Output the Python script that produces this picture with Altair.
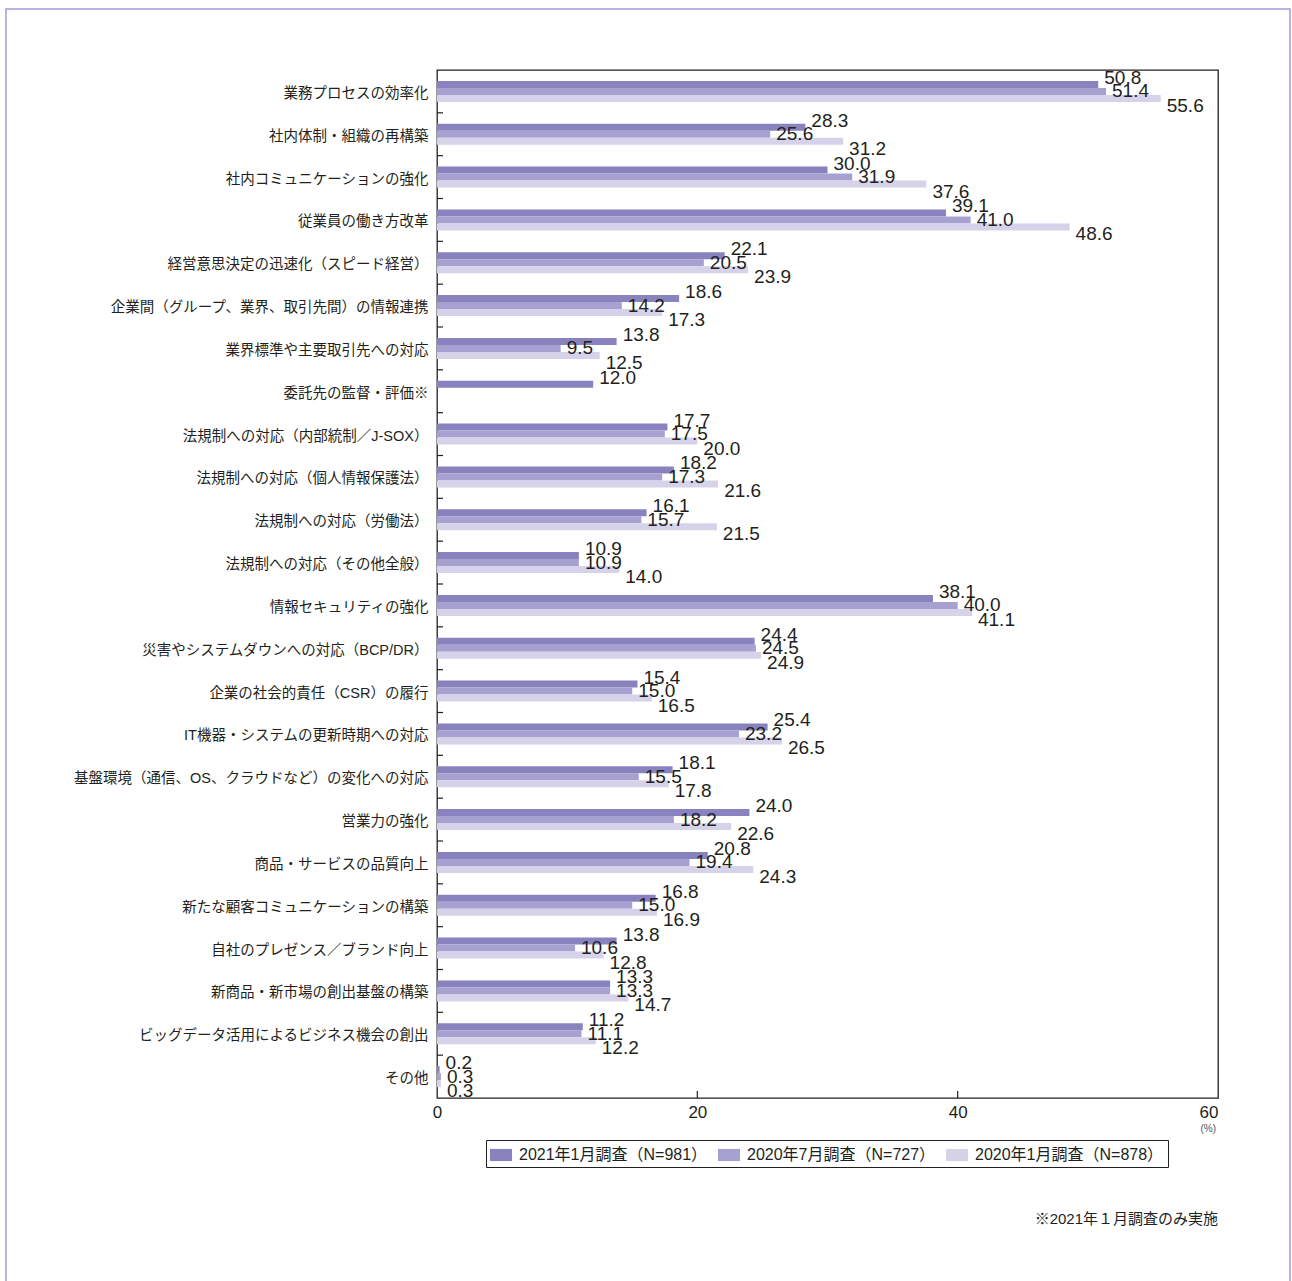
import altair as alt
import pandas as pd

categories = [
    "業務プロセスの効率化",
    "社内体制・組織の再構築",
    "社内コミュニケーションの強化",
    "従業員の働き方改革",
    "経営意思決定の迅速化（スピード経営）",
    "企業間（グループ、業界、取引先間）の情報連携",
    "業界標準や主要取引先への対応",
    "委託先の監督・評価※",
    "法規制への対応（内部統制／J-SOX）",
    "法規制への対応（個人情報保護法）",
    "法規制への対応（労働法）",
    "法規制への対応（その他全般）",
    "情報セキュリティの強化",
    "災害やシステムダウンへの対応（BCP/DR）",
    "企業の社会的責任（CSR）の履行",
    "IT機器・システムの更新時期への対応",
    "基盤環境（通信、OS、クラウドなど）の変化への対応",
    "営業力の強化",
    "商品・サービスの品質向上",
    "新たな顧客コミュニケーションの構築",
    "自社のプレゼンス／ブランド向上",
    "新商品・新市場の創出基盤の構築",
    "ビッグデータ活用によるビジネス機会の創出",
    "その他",
]

series_names = ["2021年1月調査（N=981）", "2020年7月調査（N=727）", "2020年1月調査（N=878）"]

v_2021_01 = [50.8, 28.3, 30.0, 39.1, 22.1, 18.6, 13.8, 12.0, 17.7, 18.2, 16.1, 10.9,
             38.1, 24.4, 15.4, 25.4, 18.1, 24.0, 20.8, 16.8, 13.8, 13.3, 11.2, 0.2]
v_2020_07 = [51.4, 25.6, 31.9, 41.0, 20.5, 14.2, 9.5, None, 17.5, 17.3, 15.7, 10.9,
             40.0, 24.5, 15.0, 23.2, 15.5, 18.2, 19.4, 15.0, 10.6, 13.3, 11.1, 0.3]
v_2020_01 = [55.6, 31.2, 37.6, 48.6, 23.9, 17.3, 12.5, None, 20.0, 21.6, 21.5, 14.0,
             41.1, 24.9, 16.5, 26.5, 17.8, 22.6, 24.3, 16.9, 12.8, 14.7, 12.2, 0.3]

colors = ["#8882bf", "#a7a1d1", "#d5d2e9"]
x_ticks = [0, 20, 40, 60]
inner_ticks = [20, 40]

rows = []
for s, vals in zip(series_names, [v_2021_01, v_2020_07, v_2020_01]):
    for c, v in zip(categories, vals):
        if v is not None:
            rows.append({"cat": c, "series": s, "value": v})
df = pd.DataFrame(rows)

W, H = 781, 1028
STEP = H / len(categories)
BAR = 7
FONT = "Liberation Sans, Noto Sans CJK JP, sans-serif"
TXT = "#231f20"

yscale = alt.Scale(domain=categories, paddingInner=0, paddingOuter=0)
xscale = alt.Scale(domain=[0, 60], nice=False, zero=True)
off0 = (STEP - 3 * BAR) / 2

xaxis = alt.Axis(values=x_ticks, title=None, ticks=False, tickSize=0, domain=False,
                 grid=False, labelFont=FONT, labelFontSize=17, labelColor=TXT,
                 labelPadding=6, labelFlush=False,
                 labelAlign={"condition": {"test": "datum.value >= 60", "value": "right"},
                             "value": "center"})
yaxis = alt.Axis(title=None, ticks=False, tickSize=0, domain=False, grid=False,
                 labelFont=FONT, labelFontSize=14.5, labelColor=TXT, labelPadding=9,
                 labelLimit=0, labelOffset=2.5)

bars = alt.Chart(df).mark_bar().encode(
    x=alt.X("value:Q", scale=xscale, axis=xaxis),
    y=alt.Y("cat:N", scale=yscale, sort=categories, axis=yaxis),
    yOffset=alt.YOffset("series:N", sort=series_names,
                        scale=alt.Scale(domain=series_names, paddingInner=0, paddingOuter=0,
                                        range=[off0, off0 + 3 * BAR])),
    color=alt.Color("series:N", sort=series_names,
                    scale=alt.Scale(domain=series_names, range=colors),
                    legend=alt.Legend(title=None, orient="none", legendX=49, legendY=1070,
                                      direction="horizontal",
                                      symbolType="M-1,-0.55H1V0.55H-1Z", symbolSize=484,
                                      symbolStrokeWidth=0, symbolOpacity=1,
                                      labelFont=FONT, labelFontSize=16, labelColor=TXT,
                                      labelOffset=7, columnPadding=10, padding=4,
                                      strokeColor=TXT, labelLimit=0)),
)

dys = [-13.5, 0, 14.5]
text_layers = []
for s, dy in zip(series_names, dys):
    text_layers.append(
        alt.Chart(df).transform_filter(alt.datum.series == s).mark_text(
            align="left", baseline="middle", dx=6, dy=dy, font=FONT, fontSize=19, color=TXT
        ).encode(
            x=alt.X("value:Q", scale=xscale, axis=xaxis),
            y=alt.Y("cat:N", scale=yscale, sort=categories, axis=yaxis),
            text=alt.Text("value:Q", format=".1f"),
        )
    )

ytick_df = pd.DataFrame({"cat": categories[1:]})
yticks = alt.Chart(ytick_df).mark_rule(color=TXT, strokeWidth=1.2).encode(
    y=alt.Y("cat:N", scale=yscale, sort=categories, bandPosition=0, axis=yaxis),
    x=alt.value(0), x2=alt.value(6),
)

xtick_df = pd.DataFrame({"value": inner_ticks})
xticks = alt.Chart(xtick_df).mark_rule(color=TXT, strokeWidth=1.2).encode(
    x=alt.X("value:Q", scale=xscale, axis=xaxis),
    y=alt.value(H), y2=alt.value(H - 7),
)

one = pd.DataFrame({"a": [0]})
pct = alt.Chart(one).mark_text(align="right", baseline="middle", font=FONT, fontSize=10,
                               color="#555555").encode(
    x=alt.value(W - 2), y=alt.value(1059), text=alt.value("(%)"))
note = alt.Chart(one).mark_text(align="right", baseline="middle", font=FONT, fontSize=15,
                                color=TXT).encode(
    x=alt.value(W), y=alt.value(1149), text=alt.value("※2021年１月調査のみ実施"))
frame = alt.Chart(one).mark_rect(fill=None, stroke="#a39dd6", strokeWidth=1.5, clip=False).encode(
    x=alt.value(-431), x2=alt.value(853), y=alt.value(-61), y2=alt.value(1240))

chart = alt.layer(bars, *text_layers, yticks, xticks, pct, note, frame).properties(
    width=W, height=H,
    background="white",
    autosize=alt.AutoSizeParams(type="none"),
    padding={"left": 437, "top": 70, "right": 74, "bottom": 183},
).configure_view(stroke=TXT, strokeWidth=1.3)

chart.save("out.html", embed_options={"renderer": "svg", "actions": False})
